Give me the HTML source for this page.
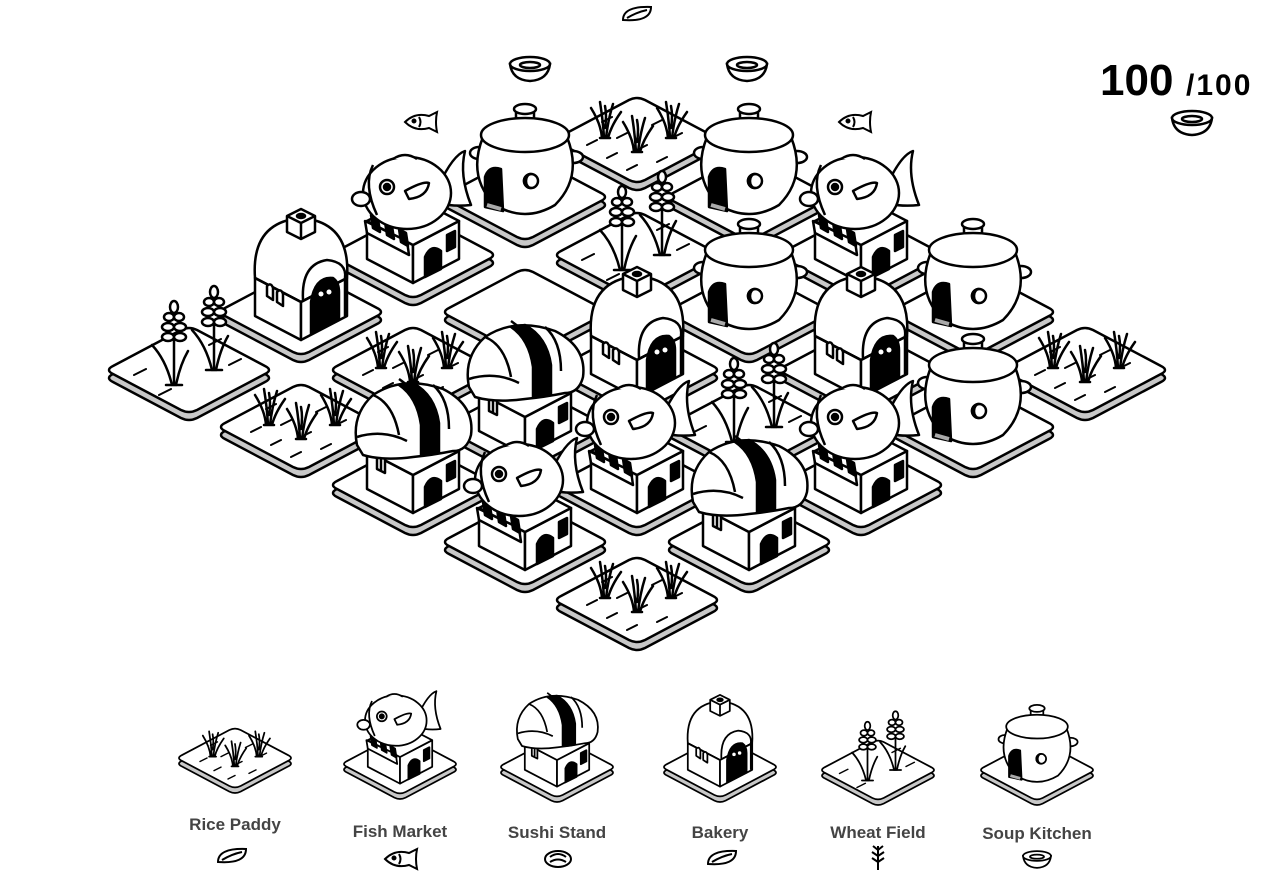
<!DOCTYPE html>
<html><head><meta charset="utf-8"><style>
html,body{margin:0;padding:0;background:#fff;width:1283px;height:893px;overflow:hidden}
svg{display:block}
text{font-family:"Liberation Sans",sans-serif}
</style></head><body>
<svg width="1283" height="893" viewBox="0 0 1283 893" xmlns="http://www.w3.org/2000/svg">
<defs>
<g id="tile" stroke="#000" stroke-width="2.5" stroke-linejoin="round">
  <path transform="translate(0,8)" d="M-76,-4 L-8,-40 Q0,-44 8,-40 L76,-4 Q84,0 76,4 L8,40 Q0,44 -8,40 L-76,4 Q-84,0 -76,-4Z" fill="#c8c8c8"/>
  <path d="M-76,-4 L-8,-40 Q0,-44 8,-40 L76,-4 Q84,0 76,4 L8,40 Q0,44 -8,40 L-76,4 Q-84,0 -76,-4Z" fill="#fff"/>
</g>
<g id="tuft" fill="none" stroke="#000" stroke-width="2.5" stroke-linecap="round">
  <path d="M-5,0 L5,0 M-3,0 Q-4,-14 -14,-30 M-1,0 Q-2,-18 -5,-36 M1,0 Q3,-18 8,-34 M3,0 Q6,-12 16,-26 M0,-10 Q2,-22 0,-32"/>
</g>
<g id="rice">
  <use href="#tile"/>
  <g stroke="#000" stroke-width="2" stroke-linecap="round">
    <path d="M-50,5 l10,-5 M-30,18 l10,-5 M-10,30 l10,-5 M-20,-2 l10,-5 M0,10 l10,-5 M20,22 l10,-5 M15,-15 l10,-5 M35,-2 l10,-5 M-35,-18 l10,-5"/>
  </g>
  <use href="#tuft" x="-32" y="-2"/>
  <use href="#tuft" x="0" y="12"/>
  <use href="#tuft" x="34" y="-2"/>
</g>
<g id="stalk" fill="#fff" stroke="#000" stroke-width="2.5" stroke-linecap="round">
  <path fill="none" d="M0,0 L0,-50 M-2,0 Q-8,-25 -22,-40 M2,0 Q6,-20 14,-34"/>
  <ellipse cx="-6" cy="-48" rx="6" ry="4"/><ellipse cx="6" cy="-48" rx="6" ry="4"/>
  <ellipse cx="-6" cy="-58" rx="6" ry="4"/><ellipse cx="6" cy="-58" rx="6" ry="4"/>
  <ellipse cx="-5" cy="-68" rx="5" ry="4"/><ellipse cx="5" cy="-68" rx="5" ry="4"/>
  <ellipse cx="0" cy="-78" rx="4" ry="6"/>
  <path d="M-8,0 L8,0"/>
</g>
<g id="wheat">
  <use href="#tile"/>
  <g stroke="#000" stroke-width="2" stroke-linecap="round">
    <path d="M-55,5 l12,-6 M-30,25 l12,-6 M20,-25 l12,-6 M40,-5 l12,-6"/>
  </g>
  <use href="#stalk" x="-15" y="15"/>
  <use href="#stalk" x="25" y="0"/>
</g>
<g id="pot" stroke="#000" stroke-width="2.5" stroke-linejoin="round" fill="#fff">
  <use href="#tile"/>
  <ellipse cx="-46" cy="-44" rx="9" ry="6"/><ellipse cx="48" cy="-40" rx="10" ry="6"/>
  <path d="M-42,-60 Q-58,-20 -30,8 Q0,26 30,8 Q58,-20 42,-60Z"/>
  <ellipse cx="0" cy="-62" rx="44" ry="17"/>
  <path d="M-9,-79 L-9,-87 M9,-79 L9,-87" fill="none"/>
  <ellipse cx="0" cy="-88" rx="11" ry="5"/>
  <path d="M-40,10 L-40,-20 Q-36,-32 -24,-28 L-22,14Z" fill="#000"/>
  <path d="M-38,8 L-24,12" stroke="#aaa" stroke-width="4"/>
  <circle cx="6" cy="-16" r="7"/><path d="M6,-23 A7,7 0 0 0 6,-9 A5,7 0 0 1 6,-23Z" fill="#000"/>
</g>
<g id="box" stroke="#000" stroke-width="2.5" stroke-linejoin="round" fill="#fff">
  <path d="M-46,4 L0,28 L0,-10 L-46,-34Z"/>
  <path d="M0,28 L46,4 L46,-34 L0,-10Z"/>
  <path d="M-46,-34 L0,-58 L46,-34 L0,-10Z"/>
  <path d="M12,22 L12,2 Q18,-12 28,-4 L28,14Z" fill="#000"/>
  <path d="M34,-4 L42,-8 L42,-24 L34,-20Z" fill="#000"/>
</g>
<g id="fish" stroke="#000" stroke-width="2.5" stroke-linejoin="round" fill="#fff">
  <use href="#tile"/>
  <use href="#box"/>
  <path d="M-46,-22 L-4,0 L-6,-14 L-48,-34Z"/>
  <path d="M-40,-27 L-33,-23 L-35,-36 L-42,-40Z M-26,-20 L-19,-16 L-21,-29 L-28,-33Z M-12,-13 L-5,-9 L-7,-22 L-14,-26Z" fill="#000"/>
  <path d="M26,-70 Q40,-100 52,-104 Q46,-80 58,-50 Q40,-48 26,-52Z"/>
  <ellipse cx="-6" cy="-62" rx="44" ry="36"/>
  <path d="M-20,-96 Q-8,-104 4,-96" />
  <ellipse cx="-52" cy="-56" rx="9" ry="7"/>
  <circle cx="-26" cy="-68" r="7"/><circle cx="-26" cy="-68" r="3" fill="#000"/>
  <path d="M-8,-64 Q10,-74 16,-72 Q14,-58 -4,-56Z"/>
  <path d="M-40,-90 Q-50,-70 -36,-40" fill="none"/>
</g>
<g id="sushi" stroke="#000" stroke-width="2.5" stroke-linejoin="round" fill="#fff">
  <use href="#tile"/>
  <use href="#box"/>
  <path d="M-36,-16 L-28,-12 L-28,-26 L-36,-30Z M-32,-14 L-32,-28" />
  <path d="M-56,-40 Q-62,-70 -40,-90 Q-10,-110 30,-96 Q62,-80 58,-50 Q54,-34 40,-34 Q20,-30 0,-28 Q-30,-24 -50,-30Z"/>
  <path d="M-40,-90 Q-20,-82 -14,-50 M-14,-106 Q10,-90 12,-60 M20,-100 Q36,-86 36,-56 M-56,-48 Q-30,-56 -6,-44" fill="none"/>
  <path d="M0,-102 Q22,-90 26,-62 L26,-32 Q16,-30 8,-30 L8,-60 Q4,-88 -14,-100Z" fill="#000"/>
</g>
<g id="bakery" stroke="#000" stroke-width="2.5" stroke-linejoin="round" fill="#fff">
  <use href="#tile"/>
  <path d="M-46,-34 Q-50,-90 0,-94 Q50,-90 46,-34 L0,-10Z"/>
  <path d="M-46,4 L0,28 L0,-10 L-46,-34Z"/>
  <path d="M0,28 L46,4 L46,-34 L0,-10Z"/>
  <path d="M-46,-34 L0,-10 L46,-34" fill="none"/>
  <path d="M2,-12 Q0,-48 26,-52 Q46,-50 44,-34 L44,4" fill="none"/>
  <path d="M10,22 L10,-10 Q14,-36 32,-34 Q38,-30 38,-20 L38,8Z" fill="#000"/>
  <circle cx="20" cy="-18" r="2.5" fill="#fff" stroke="none"/><circle cx="28" cy="-20" r="2.5" fill="#fff" stroke="none"/>
  <path d="M-34,-16 L-34,-26 Q-30,-30 -28,-24 L-28,-12Z M-24,-10 L-24,-20 Q-20,-24 -18,-18 L-18,-6Z"/>
  <path d="M-14,-96 L0,-103 L14,-96 L14,-80 L0,-73 L-14,-80Z"/>
  <path d="M-14,-96 L0,-89 L14,-96 M0,-89 L0,-73" fill="none"/>
  <ellipse cx="0" cy="-96" rx="4" ry="2" fill="#000"/>
</g>
<g id="bowl" fill="#fff" stroke="#000" stroke-width="2.5">
  <path d="M-20,0 Q-18,16 0,17 Q18,16 20,0Z"/>
  <ellipse cx="0" cy="0" rx="20" ry="7"/>
  <ellipse cx="0" cy="1" rx="10" ry="3"/>
</g>
<g id="fishi" fill="#fff" stroke="#000" stroke-width="2">
  <path d="M-18,0 Q-8,-10 6,-6 L14,-10 Q12,0 14,10 L6,6 Q-8,10 -18,0Z"/>
  <circle cx="-9" cy="-1" r="1.5" fill="#000"/><path d="M-4,-5 Q-1,0 -4,5" fill="none"/>
</g>
<g id="leaf" fill="#fff" stroke="#000" stroke-width="2">
  <path d="M-14,6 Q-14,-8 14,-7 Q14,8 -14,6Z M-10,4 Q0,-2 10,-4" />
</g>
</defs>

<g transform="translate(637,14)"><use href="#leaf"/></g>
<use href="#bowl" x="530" y="64"/>
<use href="#bowl" x="747" y="64"/>
<use href="#fishi" x="423" y="122"/>
<use href="#fishi" x="857" y="122"/>

<use href="#rice" x="637" y="140"/>
<use href="#pot" x="525" y="197"/>
<use href="#pot" x="749" y="197"/>
<use href="#fish" x="413" y="255"/>
<use href="#wheat" x="637" y="255"/>
<use href="#fish" x="861" y="255"/>
<use href="#bakery" x="301" y="312"/>
<use href="#tile" x="525" y="312"/>
<use href="#pot" x="749" y="312"/>
<use href="#pot" x="973" y="312"/>
<use href="#wheat" x="189" y="370"/>
<use href="#rice" x="413" y="370"/>
<use href="#bakery" x="637" y="370"/>
<use href="#bakery" x="861" y="370"/>
<use href="#rice" x="1085" y="370"/>
<use href="#rice" x="301" y="427"/>
<use href="#sushi" x="525" y="427"/>
<use href="#wheat" x="749" y="427"/>
<use href="#pot" x="973" y="427"/>
<use href="#sushi" x="413" y="485"/>
<use href="#fish" x="637" y="485"/>
<use href="#fish" x="861" y="485"/>
<use href="#fish" x="525" y="542"/>
<use href="#sushi" x="749" y="542"/>
<use href="#rice" x="637" y="600"/>

<text x="1100" y="95" font-size="44" font-weight="bold" fill="#000">100</text>
<text x="1186" y="95" font-size="30" font-weight="bold" fill="#000" letter-spacing="2">/100</text>
<use href="#bowl" x="1192" y="118"/>

<g transform="translate(235,758) scale(0.7)"><use href="#rice"/></g>
<g transform="translate(400,764) scale(0.7)"><use href="#fish"/></g>
<g transform="translate(557,767) scale(0.7)"><use href="#sushi"/></g>
<g transform="translate(720,767) scale(0.7)"><use href="#bakery"/></g>
<g transform="translate(878,770) scale(0.7)"><use href="#wheat"/></g>
<g transform="translate(1037,770) scale(0.7)"><use href="#pot"/></g>

<g font-size="17" font-weight="bold" fill="#444" text-anchor="middle">
<text x="235" y="830">Rice Paddy</text>
<text x="400" y="837">Fish Market</text>
<text x="557" y="838">Sushi Stand</text>
<text x="720" y="838">Bakery</text>
<text x="878" y="838">Wheat Field</text>
<text x="1037" y="839">Soup Kitchen</text>
</g>
<use href="#leaf" x="232" y="856"/>
<use href="#fishi" x="403" y="859"/>
<g transform="translate(558,859)" fill="#fff" stroke="#000" stroke-width="2"><ellipse rx="13" ry="8"/><path d="M-8,-2 Q0,-8 8,-2 M-8,3 Q0,-2 8,3" fill="none"/></g>
<use href="#leaf" x="722" y="858"/>
<g transform="translate(878,858)" fill="none" stroke="#000" stroke-width="2"><path d="M0,12 L0,-12 M0,-8 l-5,-4 M0,-8 l5,-4 M0,-2 l-6,-4 M0,-2 l6,-4 M0,4 l-6,-4 M0,4 l6,-4"/></g>
<g transform="translate(1037,856) scale(0.7)"><use href="#bowl"/></g>
</svg>
</body></html>
